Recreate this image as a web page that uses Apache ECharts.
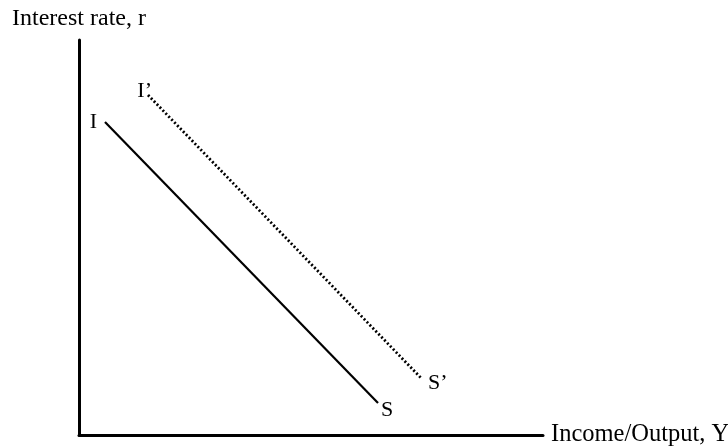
<!DOCTYPE html>
<html>
<head>
<meta charset="utf-8">
<script src="https://cdn.jsdelivr.net/npm/echarts@6/dist/echarts.min.js"></script>
<style>
  html, body { margin: 0; padding: 0; background: #fff; }
  #chart { width: 728px; height: 447px; }
</style>
</head>
<body>
<div id="chart"></div>
<script>
// IS curves: start and end points in axis units (origin at the corner)
const isPoints = [[26, 313], [299, 32]];
const isLabels = ['I', 'S'];
const isShiftedPoints = [[69, 340], [343, 56]];
const isShiftedLabels = ['I\u2019', 'S\u2019'];
const xMax = 464;
const yMax = 395;

const serif = '"Liberation Serif", "DejaVu Serif", serif';

const chart = echarts.init(document.getElementById('chart'));

function labelled(points, labels, labelOpts) {
  return points.map((p, i) => ({
    value: p,
    label: Object.assign({ show: true, formatter: labels[i] }, labelOpts[i])
  }));
}

chart.setOption({
  animation: false,
  grid: { left: 79, top: 40, right: 185, bottom: 12, containLabel: false, outerBoundsMode: 'none' },
  xAxis: {
    type: 'value', min: 0, max: xMax,
    name: 'Income/Output, Y', nameLocation: 'end', nameGap: 8,
    nameTextStyle: { fontFamily: serif, fontSize: 24.5, color: '#000', verticalAlign: 'middle', padding: [6, 0, 0, 0] },
    axisLine: { lineStyle: { color: '#000', width: 3 } },
    axisTick: { show: false }, axisLabel: { show: false }, splitLine: { show: false }
  },
  yAxis: {
    type: 'value', min: 0, max: yMax,
    name: 'Interest rate, r', nameLocation: 'end', nameGap: 9,
    nameTextStyle: { fontFamily: serif, fontSize: 24, color: '#000', align: 'center' },
    axisLine: { show: true, lineStyle: { color: '#000', width: 3 } },
    axisTick: { show: false }, axisLabel: { show: false }, splitLine: { show: false }
  },
  series: [
    {
      type: 'line',
      symbol: 'circle', symbolSize: 0,
      lineStyle: { color: '#000', width: 2.2 },
      itemStyle: { color: '#000' },
      label: { fontFamily: serif, fontSize: 22, color: '#000' },
      data: labelled(isPoints, isLabels, [
        { position: 'left', distance: 8, offset: [0, 0] },
        { position: 'right', distance: 3, offset: [0, 7] }
      ])
    },
    {
      type: 'line',
      symbol: 'circle', symbolSize: 0,
      lineStyle: { color: '#000', width: 2.8, type: [2, 2.2] },
      itemStyle: { color: '#000' },
      label: { fontFamily: serif, fontSize: 22, color: '#000' },
      data: labelled(isShiftedPoints, isShiftedLabels, [
        { position: 'left', distance: 0, offset: [4, -4] },
        { position: 'right', distance: 6, offset: [0, 4] }
      ])
    }
  ]
});
</script>
</body>
</html>
